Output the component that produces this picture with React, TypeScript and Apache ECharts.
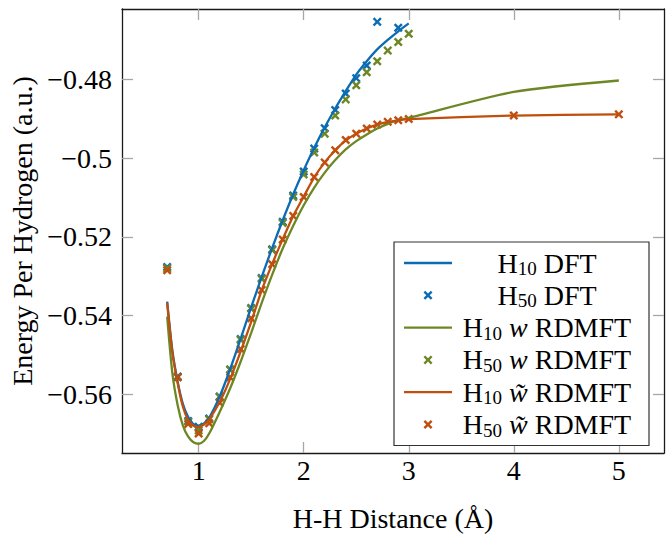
import React, { useEffect, useRef } from "react";
import * as echarts from "echarts";

const FONT = "'Liberation Serif', 'Times New Roman', serif";
const BLUE = "#0b6cb3";
const GREEN = "#6c8724";
const ORANGE = "#c04e0d";

// H10 line sample positions (Å)
const lineX = [0.7, 0.75, 0.8, 0.85, 0.9, 0.95, 1.0, 1.05, 1.1, 1.2, 1.3, 1.4, 1.5, 1.6, 1.7, 1.8, 1.9, 2.0, 2.1, 2.2, 2.3, 2.4, 2.5, 2.6, 2.7, 2.8, 2.9, 3.0];
const lineXLong = [...lineX, 4.0, 5.0];

const h10Dft = [-0.5365, -0.549, -0.5568, -0.5625, -0.5658, -0.5676, -0.568, -0.5674, -0.566, -0.5606, -0.5536, -0.5459, -0.5379, -0.5302, -0.5228, -0.5158, -0.5092, -0.5031, -0.4974, -0.4922, -0.4874, -0.483, -0.4788, -0.4754, -0.4724, -0.47, -0.4678, -0.4658];
const h10W = [-0.5403, -0.5548, -0.5628, -0.568, -0.5708, -0.5722, -0.5726, -0.5719, -0.57, -0.5645, -0.5585, -0.5517, -0.5444, -0.5368, -0.5296, -0.523, -0.5172, -0.512, -0.5075, -0.5037, -0.5005, -0.4978, -0.4957, -0.494, -0.4925, -0.4913, -0.4904, -0.4898, -0.4832, -0.4803];
const h10Wt = [-0.5368, -0.5495, -0.5572, -0.5632, -0.5666, -0.568, -0.5683, -0.5677, -0.5664, -0.562, -0.5561, -0.5491, -0.5416, -0.5336, -0.5269, -0.5206, -0.5147, -0.5098, -0.5049, -0.5011, -0.498, -0.4955, -0.4938, -0.4925, -0.4915, -0.4908, -0.4904, -0.4901, -0.4892, -0.4889];

// H50 points
const h50DftX = [0.7, 0.8, 0.9, 1.0, 1.1, 1.2, 1.3, 1.4, 1.5, 1.6, 1.7, 1.8, 1.9, 2.0, 2.1, 2.2, 2.3, 2.4, 2.5, 2.6, 2.7, 2.9];
const h50Dft = [-0.5277, -0.5555, -0.5668, -0.5683, -0.5662, -0.5606, -0.5537, -0.546, -0.5381, -0.5305, -0.5232, -0.5162, -0.5095, -0.5034, -0.4976, -0.4924, -0.4878, -0.4836, -0.4797, -0.4765, -0.4654, -0.4669];
const h50X = [0.7, 0.8, 0.9, 1.0, 1.1, 1.2, 1.3, 1.4, 1.5, 1.6, 1.7, 1.8, 1.9, 2.0, 2.1, 2.2, 2.3, 2.4, 2.5, 2.6, 2.7, 2.8, 2.9, 3.0];
const h50W = [-0.528, -0.5557, -0.567, -0.5692, -0.5664, -0.5607, -0.5538, -0.5462, -0.5383, -0.5307, -0.5234, -0.5165, -0.5099, -0.5042, -0.4986, -0.4938, -0.4892, -0.4851, -0.4815, -0.4782, -0.4754, -0.4727, -0.4705, -0.4684];
const h50WtX = [...h50X, 4.0, 5.0];
const h50Wt = [-0.5285, -0.5557, -0.5676, -0.57, -0.5674, -0.5622, -0.5557, -0.5485, -0.5407, -0.5335, -0.527, -0.5207, -0.5147, -0.5099, -0.5048, -0.5011, -0.498, -0.4954, -0.4938, -0.4925, -0.4915, -0.4908, -0.4904, -0.4901, -0.4892, -0.4889];

const xTicks = [1, 2, 3, 4, 5];
const yTicks = [-0.56, -0.54, -0.52, -0.5, -0.48];
const X_MIN = 0.27;
const X_MAX = 5.43;
const Y_MIN = -0.57494;
const Y_MAX = -0.46213;

const names = ["H10 DFT", "H50 DFT", "H10 w RDMFT", "H50 w RDMFT", "H10 w̃ RDMFT", "H50 w̃ RDMFT"];
const legendRich: Record<string, string> = {
  "H10 DFT": "{h|H}{s|10}{h| DFT}",
  "H50 DFT": "{h|H}{s|50}{h| DFT}",
  "H10 w RDMFT": "{h|H}{s|10}{h| }{i|w}{h| RDMFT}",
  "H50 w RDMFT": "{h|H}{s|50}{h| }{i|w}{h| RDMFT}",
  "H10 w̃ RDMFT": "{h|H}{s|10}{h| }{i|w\u0303}{h| RDMFT}",
  "H50 w̃ RDMFT": "{h|H}{s|50}{h| }{i|w\u0303}{h| RDMFT}",
};

const CROSS = "path://M1.9,0 L5,3.1 L8.1,0 L10,1.9 L6.9,5 L10,8.1 L8.1,10 L5,6.9 L1.9,10 L0,8.1 L3.1,5 L0,1.9 Z";
const LINEICON = "path://M0,0H48V2.3H0Z";

const zip = (xs: number[], ys: number[]) => xs.map((x, i) => [x, ys[i]]);

function lineSeries(name: string, xs: number[], ys: number[], color: string) {
  return {
    type: "line",
    name,
    data: zip(xs, ys),
    showSymbol: false,
    symbol: "none",
    smooth: 0.25,
    lineStyle: { width: 2.3, color },
    itemStyle: { color },
    xAxisIndex: 0,
    yAxisIndex: 0,
  };
}
function scatterSeries(name: string, xs: number[], ys: number[], color: string) {
  return {
    type: "scatter",
    name,
    data: zip(xs, ys),
    symbol: CROSS,
    symbolSize: 9,
    itemStyle: { color, opacity: 1 },
    xAxisIndex: 0,
    yAxisIndex: 0,
  };
}

const axisLine = { show: true, onZero: false, lineStyle: { color: "#1a1a1a", width: 1.3 } };
const tickStyle = { color: "#a6a6a6", width: 1.3 };
const FS = 28;
const labelBase = { fontSize: FS, fontFamily: FONT, color: "#000" };
const fmtY = (v: number) => (v < 0 ? "\u2212" : "") + String(Math.abs(v));

export default function App() {
  const ref = useRef<HTMLDivElement>(null);
  useEffect(() => {
    document.body.style.margin = "0";
    const chart = echarts.init(ref.current!, null, { renderer: "svg" });
    const option: any = {
      animation: false,
      backgroundColor: "#fff",
      grid: { left: 122, right: 8, top: 9, bottom: 77, containLabel: false },
      xAxis: [
        {
          type: "value", min: X_MIN, max: X_MAX, position: "bottom",
          axisLine,
          axisTick: { show: true, inside: true, length: 11, customValues: xTicks, lineStyle: tickStyle },
          axisLabel: { ...labelBase, customValues: xTicks, margin: 3 },
          splitLine: { show: false },
          name: "H-H Distance (Å)", nameLocation: "middle", nameGap: 51,
          nameTextStyle: { ...labelBase },
        },
        {
          type: "value", min: X_MIN, max: X_MAX, position: "top",
          axisLine,
          axisTick: { show: true, inside: true, length: 11, customValues: xTicks, lineStyle: tickStyle },
          axisLabel: { show: false },
          splitLine: { show: false },
        },
      ],
      yAxis: [
        {
          type: "value", min: Y_MIN, max: Y_MAX, position: "left",
          axisLine,
          axisTick: { show: true, inside: true, length: 11, customValues: yTicks, lineStyle: tickStyle },
          axisLabel: { ...labelBase, customValues: yTicks, margin: 10, formatter: fmtY },
          splitLine: { show: false },
          name: "Energy Per Hydrogen (a.u.)", nameLocation: "middle", nameGap: 82,
          nameTextStyle: { ...labelBase },
        },
        {
          type: "value", min: Y_MIN, max: Y_MAX, position: "right",
          axisLine,
          axisTick: { show: true, inside: true, length: 11, customValues: yTicks, lineStyle: tickStyle },
          axisLabel: { show: false },
          splitLine: { show: false },
        },
      ],
      legend: {
        orient: "vertical",
        left: 394,
        top: 242,
        padding: [6, 12, 6, 10],
        itemGap: 2.3,
        itemWidth: 48,
        itemHeight: 9,
        itemTextGap: 4,
        borderColor: "#333",
        borderWidth: 1.2,
        backgroundColor: "#fff",
        selectedMode: false,
        data: names.map((n, i) => ({ name: n, icon: i % 2 === 0 ? LINEICON : CROSS })),
        formatter: (n: string) => legendRich[n] || n,
        textStyle: {
          width: 180,
          lineHeight: 30,
          fontSize: FS,
          fontFamily: FONT,
          color: "#000",
          rich: {
            h: { fontSize: FS, fontFamily: FONT, color: "#000", align: "center", lineHeight: 30 },
            i: { fontSize: FS, fontFamily: FONT, fontStyle: "italic", color: "#000", align: "center", lineHeight: 30 },
            s: { fontSize: 19, fontFamily: FONT, color: "#000", align: "center", verticalAlign: "bottom", lineHeight: 17 },
          },
        },
      },
      series: [
        lineSeries(names[0], lineX, h10Dft, BLUE),
        scatterSeries(names[1], h50DftX, h50Dft, BLUE),
        lineSeries(names[2], lineXLong, h10W, GREEN),
        scatterSeries(names[3], h50X, h50W, GREEN),
        lineSeries(names[4], lineXLong, h10Wt, ORANGE),
        scatterSeries(names[5], h50WtX, h50Wt, ORANGE),
      ],
    };
    chart.setOption(option);
    return () => chart.dispose();
  }, []);
  return <div ref={ref} style={{ width: 672, height: 537 }} />;
}
